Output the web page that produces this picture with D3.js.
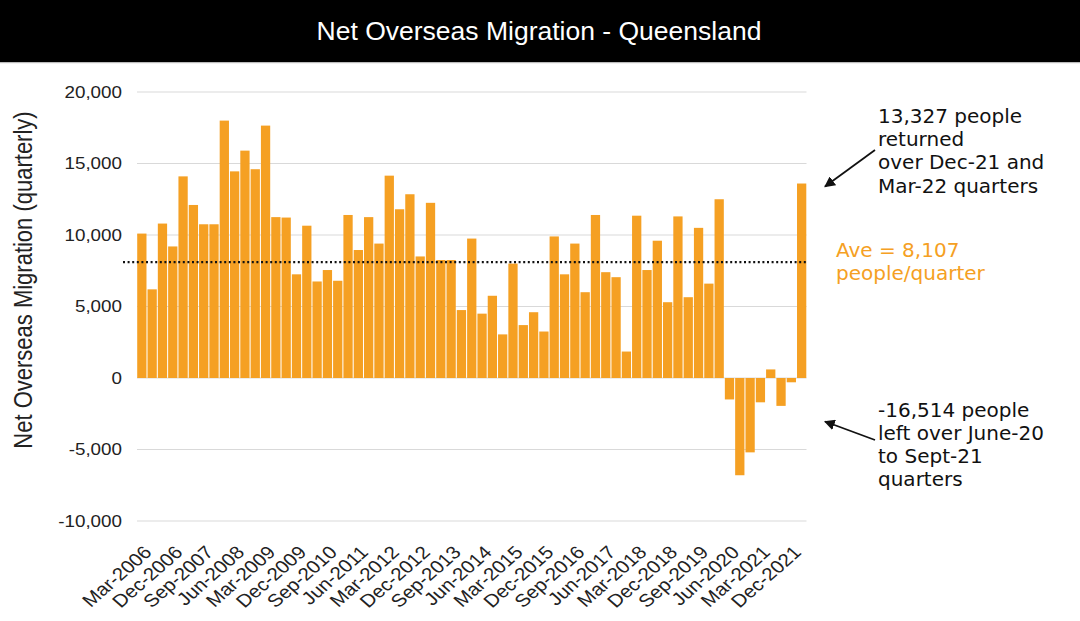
<!DOCTYPE html>
<html>
<head>
<meta charset="utf-8">
<script src="https://cdn.jsdelivr.net/npm/d3@7"></script>
<style>
  html, body { margin: 0; padding: 0; background: #fff; }
  svg { display: block; }
</style>
</head>
<body>
<svg id="chart" width="1080" height="621"></svg>
<script>
// ---- Data ----
const title = "Net Overseas Migration - Queensland";
const yAxisTitle = "Net Overseas Migration (quarterly)";
const quarters = (() => {
  const m = ["Mar", "Jun", "Sep", "Dec"];
  const out = [];
  for (let y = 2006; y <= 2022; y++) {
    for (let q = 0; q < 4; q++) {
      if (y === 2022 && q > 0) break;
      out.push(m[q] + "-" + y);
    }
  }
  return out;
})();
const values = [
  10100, 6200, 10800, 9200, 14100, 12100, 10750, 10750, 18000, 14450,
  15900, 14600, 17650, 11250, 11220, 7250, 10650, 6750, 7550, 6800,
  11400, 8950, 11250, 9400, 14150, 11800, 12850, 8500, 12250, 8250,
  8250, 4750, 9750, 4500, 5750, 3050, 8000, 3700, 4600, 3250,
  9900, 7250, 9400, 6000, 11400, 7400, 7050, 1850, 11350, 7550,
  9600, 5300, 11300, 5650, 10500, 6600, 12500, -1500, -6800, -5200,
  -1700, 600, -1950, -300, 13600
];
const average = 8107;
const yTicks = [-10000, -5000, 0, 5000, 10000, 15000, 20000];
const xTickLabels = quarters.filter((d, i) => i % 3 === 0 && i < 64);
const noteTop = ["13,327 people", "returned", "over Dec-21 and", "Mar-22 quarters"];
const noteAve = ["Ave = 8,107", "people/quarter"];
const noteBottom = ["-16,514 people", "left over June-20", "to Sept-21", "quarters"];

// ---- Layout ----
const W = 1080, H = 621;
const svg = d3.select("#chart");
const orange = "#F5A023";
const txt = "#222";
const arial = "Liberation Sans, Arial, Helvetica, sans-serif";
const stretch = 1.14;
const plot = { left: 137, right: 806.5, top: 92, bottom: 521 };

// Title band
svg.append("rect").attr("x", 0).attr("y", 0).attr("width", W).attr("height", 62).attr("fill", "#000");
svg.append("rect").attr("x", 0).attr("y", 62).attr("width", W).attr("height", 1.2).attr("fill", "#bbb");
svg.append("text").attr("x", 539).attr("y", 39.5).attr("text-anchor", "middle")
  .attr("fill", "#fff").attr("font-family", arial)
  .attr("font-size", 26.5).text(title);

const x = d3.scaleBand().domain(quarters).range([plot.left, plot.right]).paddingInner(0.1).paddingOuter(0.02);
const y = d3.scaleLinear().domain([-10000, 20000]).range([plot.bottom, plot.top]);
const fmt = d => d3.format(",")(d).replace("\u2212", "-");

// Gridlines
svg.append("g").selectAll("line").data(yTicks).join("line")
  .attr("x1", plot.left).attr("x2", plot.right)
  .attr("y1", d => y(d)).attr("y2", d => y(d))
  .attr("stroke", "#d9d9d9").attr("stroke-width", 1.2);

// Y tick labels
svg.append("g").selectAll("text").data(yTicks).join("text")
  .attr("transform", d => `translate(122,${y(d)}) scale(${stretch},1)`)
  .attr("dy", "0.35em")
  .attr("text-anchor", "end")
  .attr("font-family", arial).attr("font-size", 16.5).attr("fill", txt)
  .text(fmt);

// Y axis title
svg.append("text")
  .attr("transform", `translate(32,280) scale(${stretch},1) rotate(-90)`)
  .attr("text-anchor", "middle")
  .attr("font-family", arial)
  .attr("font-size", 22).attr("fill", txt).text(yAxisTitle);

// Bars
svg.append("g").selectAll("rect").data(values).join("rect")
  .attr("x", (d, i) => x(quarters[i]))
  .attr("width", x.bandwidth())
  .attr("y", d => y(Math.max(0, d)))
  .attr("height", d => Math.abs(y(d) - y(0)))
  .attr("fill", orange);

// Average dotted line
svg.append("line")
  .attr("x1", plot.left - 14).attr("x2", plot.right)
  .attr("y1", y(average)).attr("y2", y(average))
  .attr("stroke", "#111").attr("stroke-width", 2.2)
  .attr("stroke-dasharray", "2,2.6");

// X axis labels
svg.append("g").selectAll("text").data(xTickLabels).join("text")
  .attr("transform", d => `translate(${x(d) + x.bandwidth() / 2 + 11},553.5) scale(${stretch},1) rotate(-45)`)
  .attr("text-anchor", "end")
  .attr("font-family", arial).attr("font-size", 18).attr("fill", txt)
  .text(d => d);

// Annotations
const annFont = "'DejaVu Sans', sans-serif";
function block(lines, x0, y0, lh, color) {
  const t = svg.append("text").attr("font-family", annFont).attr("font-size", 20).attr("fill", color);
  lines.forEach((l, i) => t.append("tspan").attr("x", x0).attr("y", y0 + i * lh).text(l));
}
block(noteTop, 878, 122.5, 23.4, "#111");
block(noteAve, 836, 256.5, 23.4, orange);
block(noteBottom, 878, 416.5, 23.2, "#111");

// Arrows
const defs = svg.append("defs");
defs.append("marker").attr("id", "ah").attr("viewBox", "0 0 10 10")
  .attr("refX", 9).attr("refY", 5).attr("markerWidth", 6).attr("markerHeight", 6)
  .attr("orient", "auto-start-reverse")
  .append("path").attr("d", "M0,0 L10,5 L0,10 z").attr("fill", "#111");
svg.append("line").attr("x1", 875).attr("y1", 150).attr("x2", 825).attr("y2", 186.5)
  .attr("stroke", "#111").attr("stroke-width", 1.8).attr("marker-end", "url(#ah)");
svg.append("line").attr("x1", 875).attr("y1", 440).attr("x2", 825).attr("y2", 421.5)
  .attr("stroke", "#111").attr("stroke-width", 1.8).attr("marker-end", "url(#ah)");
</script>
</body>
</html>
